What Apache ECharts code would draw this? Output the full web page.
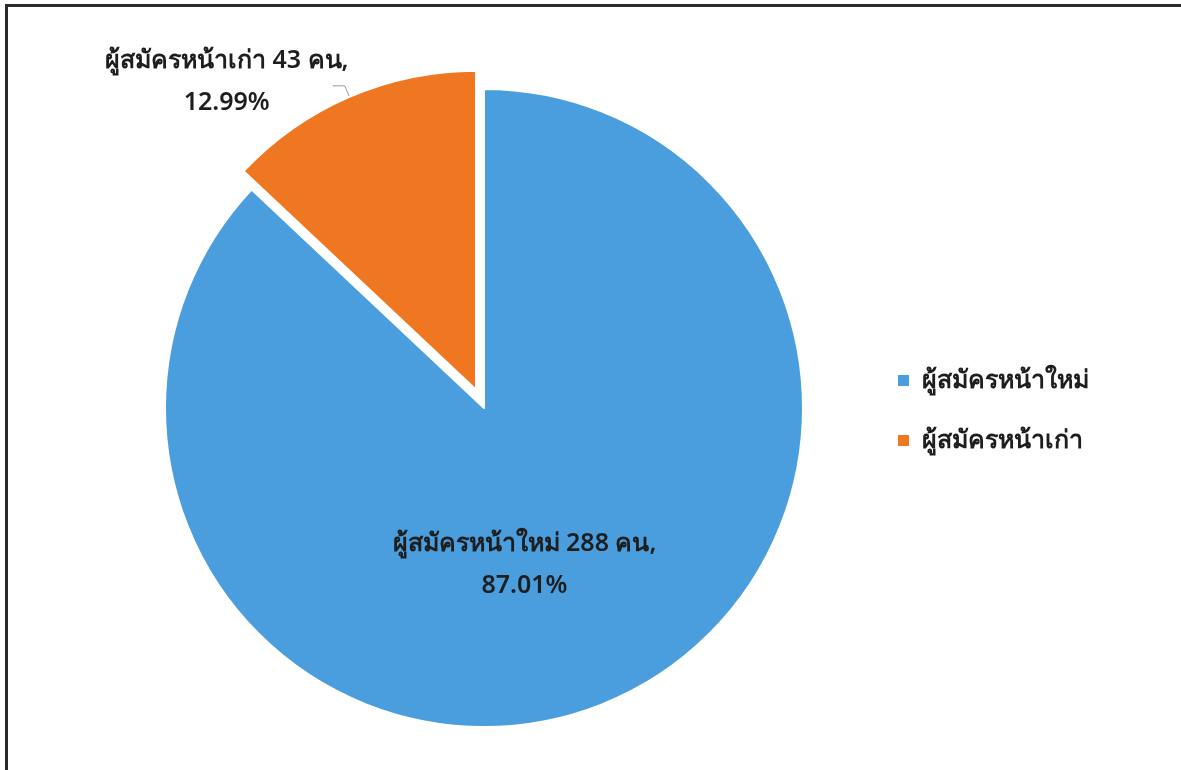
<!DOCTYPE html>
<html>
<head>
<meta charset="utf-8">
<script src="https://cdn.jsdelivr.net/npm/echarts@6/dist/echarts.min.js"></script>
<style>
html,body{margin:0;padding:0;background:#fff;}
#chart{width:1181px;height:770px;}
</style>
</head>
<body>
<div id="chart"></div>
<script>
const categories = ['ผู้สมัครหน้าใหม่', 'ผู้สมัครหน้าเก่า'];
const counts = [288, 43];
const percents = ['87.01%', '12.99%'];
const unit = 'คน';
const colors = ['#4A9EDD', '#EF7722'];

const FONT = 'Tahoma, "Noto Sans", "DejaVu Sans", sans-serif';
const chart = echarts.init(document.getElementById('chart'));
const data = categories.map((c, i) => ({
  name: c,
  value: counts[i],
  selected: i === 1,
  itemStyle: { color: colors[i] },
  label: i === 0 ? { position: 'inside', offset: [-24, 8] } : { position: 'outside' }
}));
chart.setOption({
  animation: false,
  backgroundColor: '#fff',
  graphic: [
    { type: 'rect', shape: { x: 5, y: 4, width: 1176, height: 3 }, style: { fill: '#2a2a2a' } },
    { type: 'rect', shape: { x: 5, y: 4, width: 3, height: 766 }, style: { fill: '#2a2a2a' } }
  ],
  legend: {
    orient: 'vertical',
    left: 891,
    top: 363,
    icon: 'rect',
    itemWidth: 13,
    itemHeight: 13,
    itemGap: 35,
    data: categories,
    formatter: (n) => ' ' + n,
    textStyle: { fontFamily: FONT, fontSize: 25, fontWeight: 600, color: '#1e1e1e' }
  },
  series: [{
    type: 'pie',
    center: [484, 408],
    radius: 319,
    startAngle: 90,
    selectedMode: 'single',
    selectedOffset: 20,
    select: { itemStyle: {} },
    itemStyle: { borderColor: '#fff', borderWidth: 2 },
    emphasis: { disabled: true },
    label: {
      show: true,
      fontFamily: FONT,
      fontSize: 25,
      fontWeight: 600,
      color: '#1e1e1e',
      formatter: (p) => '{a|' + p.name + ' ' + counts[p.dataIndex] + ' ' + unit + ',}\n{a|' + percents[p.dataIndex] + '}',
      rich: {
        a: { width: 290, align: 'center', lineHeight: 42, fontFamily: FONT, fontSize: 25, fontWeight: 600, color: '#1e1e1e' }
      }
    },
    labelLine: { show: true, length: 12, length2: 12, lineStyle: { color: '#999', width: 1 } },
    labelLayout: (p) => p.dataIndex === 1 ? { dx: 44, dy: -4 } : {},
    data: data
  }]
});
</script>
</body>
</html>
